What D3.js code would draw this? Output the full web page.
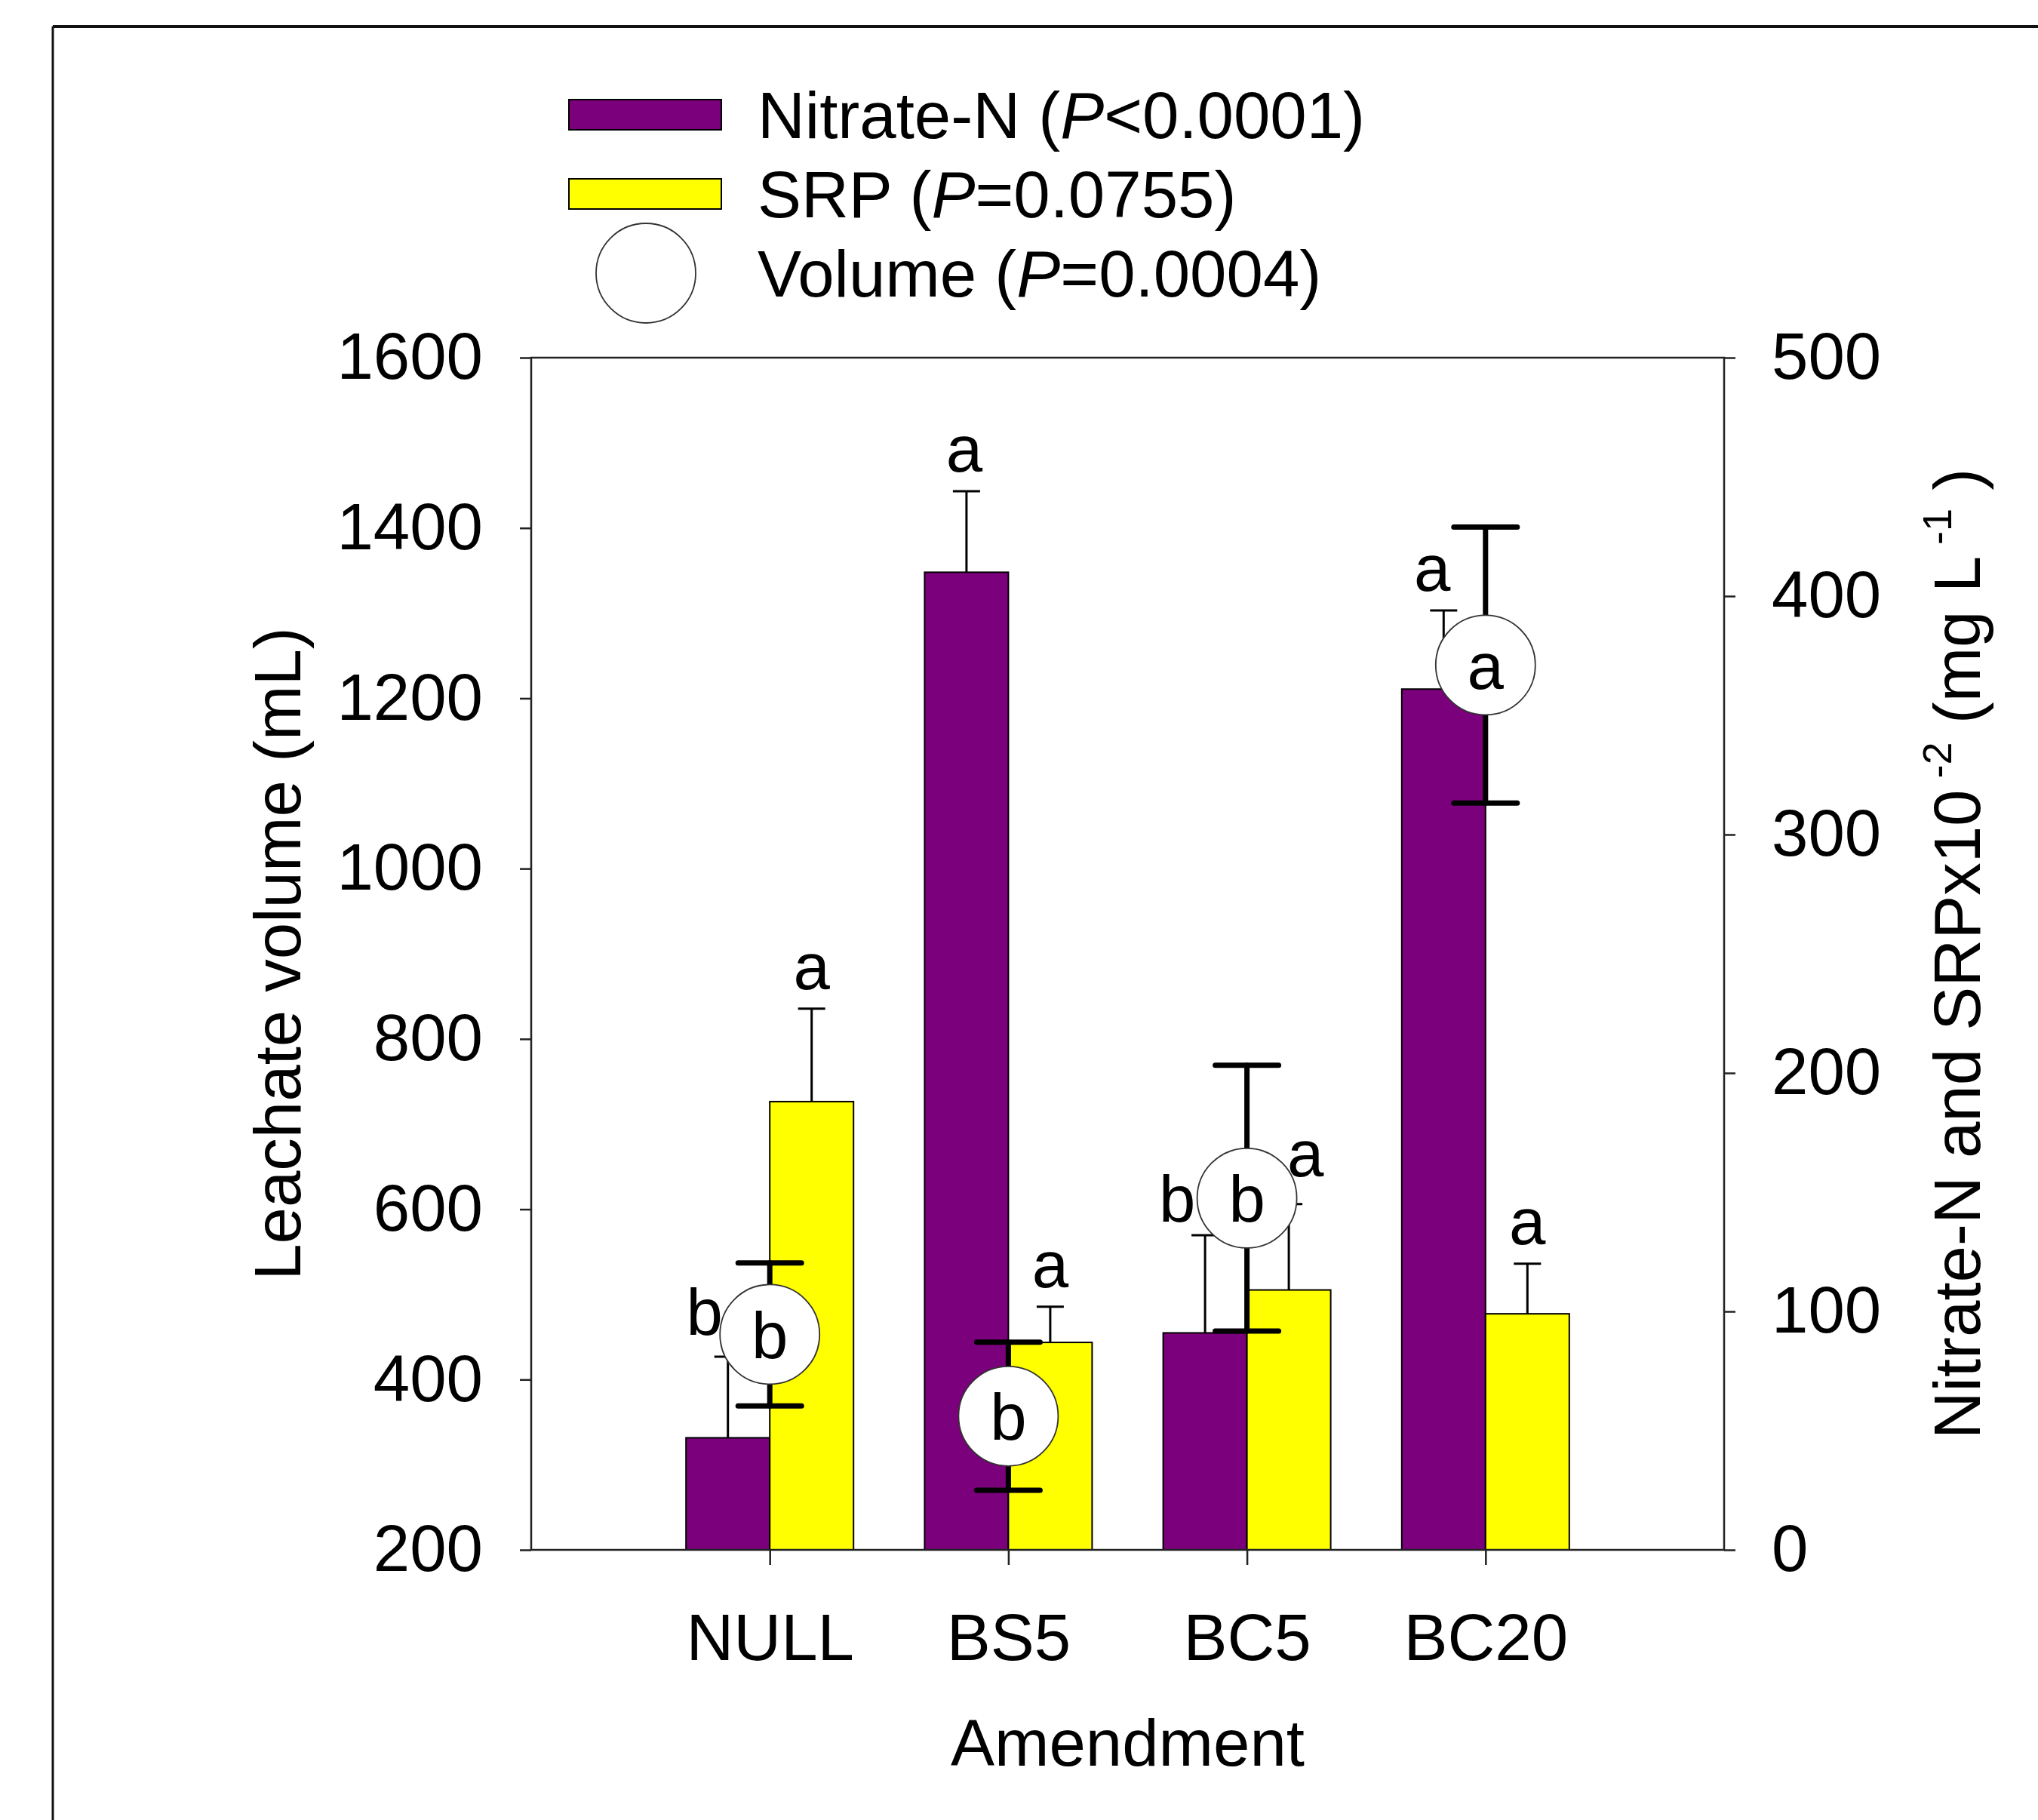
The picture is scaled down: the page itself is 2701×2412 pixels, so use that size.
<!DOCTYPE html>
<html>
<head>
<meta charset="utf-8">
<script src="https://cdn.jsdelivr.net/npm/d3@7"></script>
<style>
  body { margin: 0; background: #fff; }
  svg { display: block; }
  text { font-family: "Liberation Sans", Arial, sans-serif; fill: #000; }
</style>
</head>
<body>
<div id="chart"></div>
<script>
const categories = ['NULL', 'BS5', 'BC5', 'BC20'];

// right axis (Nitrate-N and SRP x10^-2, mg/L)
const nitrateMean = [47, 410, 91, 361];
const nitrateSE = [34, 34, 41, 33];
const srpMean = [188, 87, 109, 99];
const srpSE = [39, 15, 36, 21];

// left axis (leachate volume, mL)
const volumeMean = [453, 357, 613, 1239];
const volumeSE = [84, 87, 156, 162];

const nitrateLetters = ['b', 'a', 'b', 'a'];
const srpLetters = ['a', 'a', 'a', 'a'];
const volumeLetters = ['b', 'b', 'b', 'a'];

const leftTicks = [200, 400, 600, 800, 1000, 1200, 1400, 1600];
const rightTicks = [0, 100, 200, 300, 400, 500];

// small nudges so the letters clear the circles, as in the original
const nitrateNudge = [[-31, -3], [-3, 0], [-37, 8], [-15, 0]];
const srpNudge = [[0, 0], [0, 0], [22, -11], [0, 0]];

const width = 2701, height = 2412;
const plot = {left: 704, right: 2285, top: 474, bottom: 2054};
const fontSize = 87;
const purple = '#7b007b', yellow = '#ffff00';

const svg = d3.select('#chart').append('svg')
  .attr('width', width).attr('height', height);

// figure frame (top and left only)
svg.append('line').attr('x1', 70).attr('x2', width).attr('y1', 35).attr('y2', 35)
  .attr('stroke', '#111').attr('stroke-width', 4);
svg.append('line').attr('x1', 70).attr('x2', 70).attr('y1', 35).attr('y2', height)
  .attr('stroke', '#111').attr('stroke-width', 3);

const x = d3.scalePoint().domain(categories).range([plot.left, plot.right]).padding(1);
const sub = d3.scaleBand().domain(['nitrate', 'srp']).range([-111, 111]).padding(0);
const yLeft = d3.scaleLinear().domain([200, 1600]).range([plot.bottom, plot.top]);
const yRight = d3.scaleLinear().domain([0, 500]).range([plot.bottom, plot.top]);

const series = [
  {key: 'nitrate', mean: nitrateMean, se: nitrateSE, letters: nitrateLetters, nudge: nitrateNudge, color: purple},
  {key: 'srp', mean: srpMean, se: srpSE, letters: srpLetters, nudge: srpNudge, color: yellow}
];

// bars
series.forEach(s => {
  const rows = categories.map((c, i) => ({c, v: s.mean[i], e: s.se[i], l: s.letters[i], n: s.nudge[i]}));
  const cx = d => x(d.c) + sub(s.key) + sub.bandwidth() / 2;

  svg.append('g').selectAll('rect')
    .data(rows)
    .enter()
    .append('rect')
    .attr('x', d => x(d.c) + sub(s.key))
    .attr('y', d => yRight(d.v))
    .attr('width', sub.bandwidth())
    .attr('height', d => yRight(0) - yRight(d.v))
    .attr('fill', s.color)
    .attr('stroke', '#000')
    .attr('stroke-width', 2);

  const err = svg.append('g').attr('stroke', '#000').attr('stroke-width', 3);
  err.selectAll('line.v').data(rows).enter().append('line')
    .attr('x1', cx).attr('x2', cx)
    .attr('y1', d => yRight(d.v)).attr('y2', d => yRight(d.v + d.e));
  err.selectAll('line.c').data(rows).enter().append('line')
    .attr('x1', d => cx(d) - 18).attr('x2', d => cx(d) + 18)
    .attr('y1', d => yRight(d.v + d.e)).attr('y2', d => yRight(d.v + d.e));

  svg.append('g').selectAll('text')
    .data(rows)
    .enter()
    .append('text')
    .attr('x', d => cx(d) + d.n[0])
    .attr('y', d => yRight(d.v + d.e) - 26 + d.n[1])
    .attr('text-anchor', 'middle')
    .attr('font-size', fontSize)
    .text(d => d.l);
});

// leachate volume: error bars, circles, letters
const vol = categories.map((c, i) => ({c, v: volumeMean[i], e: volumeSE[i], l: volumeLetters[i]}));
const verr = svg.append('g').attr('stroke', '#000').attr('stroke-width', 7).attr('stroke-linecap', 'round');
verr.selectAll('line.v').data(vol).enter().append('line')
  .attr('x1', d => x(d.c)).attr('x2', d => x(d.c))
  .attr('y1', d => yLeft(d.v - d.e)).attr('y2', d => yLeft(d.v + d.e));
verr.selectAll('line.hi').data(vol).enter().append('line')
  .attr('x1', d => x(d.c) - 42).attr('x2', d => x(d.c) + 42)
  .attr('y1', d => yLeft(d.v + d.e)).attr('y2', d => yLeft(d.v + d.e));
verr.selectAll('line.lo').data(vol).enter().append('line')
  .attr('x1', d => x(d.c) - 42).attr('x2', d => x(d.c) + 42)
  .attr('y1', d => yLeft(d.v - d.e)).attr('y2', d => yLeft(d.v - d.e));

svg.append('g').selectAll('circle')
  .data(vol)
  .enter()
  .append('circle')
  .attr('cx', d => x(d.c))
  .attr('cy', d => yLeft(d.v))
  .attr('r', 66)
  .attr('fill', '#fff')
  .attr('stroke', '#333')
  .attr('stroke-width', 1.8);

svg.append('g').selectAll('text')
  .data(vol)
  .enter()
  .append('text')
  .attr('x', d => x(d.c))
  .attr('y', d => yLeft(d.v))
  .attr('dy', '0.36em')
  .attr('text-anchor', 'middle')
  .attr('font-size', fontSize)
  .text(d => d.l);

// axes
function styleAxis(g) {
  g.selectAll('path.domain').remove();
  g.selectAll('line').attr('stroke', '#222').attr('stroke-width', 2.5);
  g.selectAll('text').attr('font-size', fontSize).attr('fill', '#000')
    .attr('font-family', '"Liberation Sans", Arial, sans-serif');
}

svg.append('g')
  .attr('transform', `translate(${plot.left},0)`)
  .call(d3.axisLeft(yLeft).tickValues(leftTicks).tickFormat(d3.format('d'))
    .tickSize(15).tickPadding(49).tickSizeOuter(0))
  .call(styleAxis);

svg.append('g')
  .attr('transform', `translate(${plot.right},0)`)
  .call(d3.axisRight(yRight).tickValues(rightTicks).tickFormat(d3.format('d'))
    .tickSize(15).tickPadding(48).tickSizeOuter(0))
  .call(styleAxis);

svg.append('g')
  .attr('transform', `translate(0,${plot.bottom})`)
  .call(d3.axisBottom(x).tickSize(20).tickSizeOuter(0))
  .call(styleAxis)
  .call(g => g.selectAll('text').attr('y', 146).attr('dy', 0));

// plot box
svg.append('rect')
  .attr('x', plot.left).attr('y', plot.top)
  .attr('width', plot.right - plot.left).attr('height', plot.bottom - plot.top)
  .attr('fill', 'none').attr('stroke', '#222').attr('stroke-width', 2.5);

// axis titles
svg.append('text')
  .attr('transform', `translate(398,${(plot.top + plot.bottom) / 2}) rotate(-90)`)
  .attr('text-anchor', 'middle')
  .attr('font-size', fontSize)
  .text('Leachate volume (mL)');

const rt = svg.append('text')
  .attr('transform', `translate(2624,${(plot.top + plot.bottom) / 2}) rotate(-90)`)
  .attr('text-anchor', 'middle')
  .attr('font-size', fontSize);
rt.append('tspan').text('Nitrate-N and SRPx10');
rt.append('tspan').attr('font-size', 54).attr('dy', -38).text(' -2');
rt.append('tspan').attr('dy', 38).text(' (mg L');
rt.append('tspan').attr('font-size', 54).attr('dy', -38).text(' -1');
rt.append('tspan').attr('dy', 38).text(' )');

svg.append('text')
  .attr('x', (plot.left + plot.right) / 2)
  .attr('y', 2340)
  .attr('text-anchor', 'middle')
  .attr('font-size', fontSize)
  .text('Amendment');

// legend
const legendItems = [
  {name: 'Nitrate-N', sign: '<', p: '0.0001', type: 'bar', color: purple},
  {name: 'SRP', sign: '=', p: '0.0755', type: 'bar', color: yellow},
  {name: 'Volume', sign: '=', p: '0.0004', type: 'circle'}
];
const legendY = d3.scalePoint().domain(legendItems.map(d => d.name)).range([152, 362]);

const leg = svg.append('g');
legendItems.forEach(d => {
  const cy = legendY(d.name);
  if (d.type === 'bar') {
    leg.append('rect')
      .attr('x', 754).attr('y', cy - 20).attr('width', 202).attr('height', 40)
      .attr('fill', d.color).attr('stroke', '#000').attr('stroke-width', 2);
  } else {
    leg.append('circle')
      .attr('cx', 856).attr('cy', cy).attr('r', 66)
      .attr('fill', '#fff').attr('stroke', '#333').attr('stroke-width', 1.8);
  }
  const t = leg.append('text')
    .attr('x', 1004).attr('y', cy).attr('dy', '0.36em')
    .attr('font-size', fontSize);
  t.append('tspan').text(d.name + ' (');
  t.append('tspan').attr('font-style', 'italic').text('P');
  t.append('tspan').text(d.sign + d.p + ')');
});
</script>
</body>
</html>
